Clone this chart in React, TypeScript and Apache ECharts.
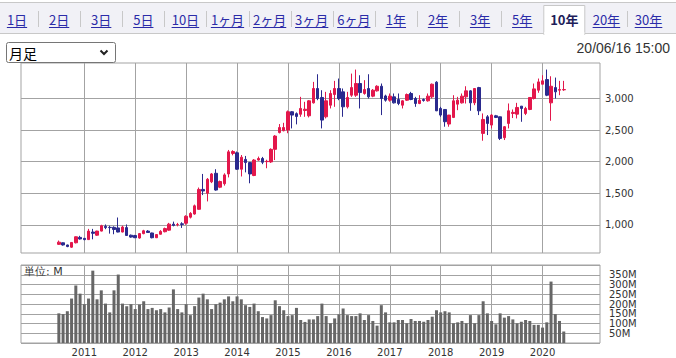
import React, { useEffect, useRef } from "react";
import * as echarts from "echarts";

// Monthly candles, 2010-07 .. 2020-06
const startYear = 2010;
const startMonth = 7;

const openP = [
  690, 715, 680, 645, 715, 800,
  785, 765, 885, 835, 900, 975, 960, 960, 950, 885, 955, 835,
  830, 790, 860, 900, 870, 795, 850, 890, 915, 1010, 1000, 1015,
  1025, 1120, 1170, 1245, 1560, 1500, 1680, 1815, 1595, 1650, 1805, 2130,
  2140, 1880, 2035, 1985, 1780, 2025, 2050, 2000, 1995, 2195, 2460, 2490,
  2500, 2790, 2760, 2750, 2810, 2726, 2931, 3158, 3016, 2710, 2894, 3063,
  3158, 3105, 2868, 3052, 3052, 3237, 3079, 3158, 3037, 3121, 3194, 3040,
  2973, 3026, 2984, 2894, 2973, 3079, 3000, 2921, 2984, 2963, 3026, 3258,
  2842, 2826, 2595, 2700, 2910, 2931, 3026, 3121, 2931, 3173, 2447, 2710,
  2579, 2726, 2710, 2379, 2605, 2763, 2752, 2879, 2763, 2826, 3000, 3131,
  3226, 3300, 2931, 3173, 3131, 3137,
];
const closeP = [
  725, 680, 655, 720, 810, 775,
  765, 900, 865, 900, 985, 955, 955, 925, 885, 965, 830, 805,
  795, 860, 905, 878, 795, 845, 895, 940, 1010, 990, 1005, 1005,
  1135, 1180, 1300, 1560, 1535, 1720, 1805, 1550, 1685, 1790, 2155, 2160,
  1880, 2070, 1985, 1805, 2025, 2050, 1990, 2005, 2195, 2405, 2540, 2540,
  2790, 2737, 2715, 2842, 2830, 2963, 3158, 3000, 2658, 2963, 3079, 3158,
  3000, 2868, 3016, 3173, 3237, 3094, 3142, 3026, 3131, 3194, 3000, 2973,
  3037, 2931, 2921, 2963, 3063, 2984, 2921, 2973, 2968, 3037, 3226, 2805,
  2737, 2632, 2737, 2963, 2973, 3037, 3121, 2931, 3158, 2805, 2668, 2605,
  2737, 2700, 2368, 2553, 2805, 2780, 2858, 2842, 2842, 3016, 3152, 3263,
  3279, 3052, 3194, 3105, 3142, 3142,
];
const lowP = [
  680, 670, 645, 635, 705, 765,
  755, 760, 770, 825, 895, 930, 860, 850, 880, 880, 825, 795,
  790, 780, 850, 870, 785, 790, 845, 880, 905, 975, 975, 950,
  1000, 1100, 1160, 1240, 1470, 1370, 1660, 1540, 1580, 1620, 1750, 2100,
  1870, 1765, 1830, 1657, 1770, 2015, 1960, 1895, 1980, 2025, 2447, 2480,
  2450, 2526, 2590, 2710, 2710, 2700, 2920, 2973, 2526, 2684, 2842, 2868,
  2973, 2710, 2842, 3026, 3026, 2842, 3060, 3000, 3020, 3110, 2737, 2950,
  2950, 2920, 2894, 2842, 2960, 2973, 2868, 2910, 2950, 2950, 3000, 2800,
  2710, 2553, 2553, 2690, 2815, 2920, 2920, 2805, 2894, 2737, 2331, 2421,
  2526, 2690, 2342, 2342, 2526, 2690, 2684, 2631, 2737, 2815, 2984, 3090,
  3226, 3037, 2647, 3000, 3052, 3121,
];
const highP = [
  750, 720, 685, 725, 815, 825,
  790, 935, 935, 905, 1000, 1005, 985, 975, 1115, 985, 1005, 845,
  840, 870, 920, 915, 875, 850, 915, 955, 1030, 1050, 1030, 1040,
  1150, 1200, 1320, 1590, 1805, 1740, 1820, 1880, 1700, 1815, 2185, 2180,
  2160, 2105, 2090, 1995, 2040, 2080, 2075, 2030, 2210, 2420, 2595, 2615,
  2810, 2800, 2780, 3026, 2947, 2975, 3263, 3384, 3131, 3105, 3131, 3279,
  3316, 3158, 3105, 3394, 3458, 3368, 3290, 3384, 3150, 3210, 3237, 3060,
  3079, 3079, 3079, 2973, 3079, 3105, 3026, 3052, 3000, 3079, 3237, 3274,
  2868, 2826, 2740, 3052, 3026, 3079, 3194, 3131, 3158, 3184, 2763, 2737,
  2752, 2740, 2715, 2563, 2921, 2826, 2931, 2880, 2868, 3016, 3237, 3316,
  3368, 3458, 3352, 3331, 3279, 3279,
];
// Volume in M
const volume = [
  152, 148, 163, 228, 295, 253,
  199, 228, 371, 224, 270, 202, 157, 270, 351, 202, 189, 199,
  174, 197, 214, 174, 180, 168, 174, 157, 182, 275, 174, 157,
  199, 143, 189, 233, 253, 224, 174, 199, 207, 224, 239, 214,
  239, 224, 194, 185, 202, 163, 133, 126, 143, 219, 189, 168,
  138, 143, 180, 118, 108, 121, 121, 138, 202, 138, 101, 126,
  147, 177, 143, 138, 138, 152, 118, 143, 113, 89, 194, 157,
  106, 106, 118, 118, 101, 123, 113, 113, 109, 118, 135, 168,
  157, 163, 157, 101, 106, 113, 101, 143, 101, 143, 214, 152,
  113, 96, 152, 130, 138, 121, 101, 109, 118, 113, 93, 93,
  79, 106, 315, 148, 113, 59,
];

const yearLabels = [2011, 2012, 2013, 2014, 2015, 2016, 2017, 2018, 2019, 2020];
const priceTicks = [1000, 1500, 2000, 2500, 3000];
const tabs = ["1日", "2日", "3日", "5日", "10日", "1ヶ月", "2ヶ月", "3ヶ月", "6ヶ月", "1年", "2年", "3年", "5年", "10年", "20年", "30年"];
const selectedTab = "10年";
const selectLabel = "月足";
const dateLabel = "20/06/16 15:00";
const unitLabel = "単位: M";

const UP = "#e3174b";
const DOWN = "#2a2a8e";
const GRID = "#a3a3a3";
const AXIS_FONT = "DejaVu Sans";

function textWidth(s: string) {
  let w = 0;
  for (const ch of s) w += /[0-9]/.test(ch) ? 7.3 : 13;
  return w;
}

export default function App() {
  const ref = useRef<HTMLDivElement>(null);
  useEffect(() => {
    document.body.style.margin = "0";
    const chart = echarts.init(ref.current!, null, { renderer: "svg" });
    const base = (startYear - 2011) * 12 + (startMonth - 1);
    const candles = openP.map((o, i) => ({
      value: [base + i, o, closeP[i], lowP[i], highP[i]],
    }));
    const vols = volume.map((v, i) => [base + i, v]);
    const yearTicks = yearLabels.map((y) => (y - 2011) * 12);

    const graphics: any[] = [];
    // tab bar
    graphics.push({ type: "rect", shape: { x: 0, y: 2, width: 676, height: 31 }, style: { fill: "#f1f1f6" }, z: 1 });
    graphics.push({ type: "line", shape: { x1: 0, y1: 2.5, x2: 676, y2: 2.5 }, style: { stroke: "#c8c8c8", lineWidth: 1 }, z: 2 });
    graphics.push({ type: "line", shape: { x1: 0, y1: 33.5, x2: 676, y2: 33.5 }, style: { stroke: "#c8c8c8", lineWidth: 1 }, z: 2 });
    tabs.forEach((t, i) => {
      const cx = 17 + 42.1 * i;
      const sel = t === selectedTab;
      if (sel) {
        graphics.push({ type: "rect", shape: { x: cx - 20.5, y: 5.5, width: 41, height: 29 }, style: { fill: "#ffffff", stroke: "#c8c8c8", lineWidth: 1 }, z: 3 });
        graphics.push({ type: "rect", shape: { x: cx - 20, y: 32, width: 40, height: 3 }, style: { fill: "#ffffff" }, z: 4 });
      }
      graphics.push({
        type: "text", x: cx, y: 19, z: 5,
        style: { text: t, fill: sel ? "#1e1e5a" : "#2b2ba8", fontSize: 13, fontWeight: sel ? "bold" : "normal", fontFamily: '"Noto Sans CJK JP", sans-serif', textAlign: "center", textVerticalAlign: "middle" },
      });
      if (!sel) {
        const w = textWidth(t);
        graphics.push({ type: "line", shape: { x1: cx - w / 2, y1: 27.5, x2: cx + w / 2, y2: 27.5 }, style: { stroke: "#2b2ba8", lineWidth: 1 }, z: 5 });
      }
      if (i < tabs.length - 1) {
        const next = tabs[i + 1];
        if (!sel && next !== selectedTab) {
          const sx = Math.round(cx + 21) + 0.5;
          graphics.push({ type: "line", shape: { x1: sx, y1: 11, x2: sx, y2: 27 }, style: { stroke: "#c8c8c8", lineWidth: 1 }, z: 2 });
        }
      }
    });
    // select box
    graphics.push({ type: "rect", shape: { x: 6.5, y: 42.5, width: 109, height: 20, r: 2 }, style: { fill: "#ffffff", stroke: "#767676", lineWidth: 1 }, z: 10 });
    graphics.push({ type: "text", x: 9, y: 53, z: 11, style: { text: selectLabel, fill: "#000", fontSize: 14, fontFamily: '"Noto Sans CJK JP", sans-serif', textVerticalAlign: "middle" } });
    graphics.push({ type: "polyline", shape: { points: [[100.5, 50.5], [104, 54], [107.5, 50.5]] }, style: { stroke: "#222", lineWidth: 2, fill: null }, z: 11 });
    // date
    graphics.push({ type: "text", x: 670, y: 48, z: 11, style: { text: dateLabel, fill: "#333", fontSize: 14, fontFamily: '"Liberation Sans", Arial, sans-serif', textAlign: "right", textVerticalAlign: "middle" } });
    // unit label
    graphics.push({ type: "text", x: 24, y: 271, z: 11, style: { text: unitLabel, fill: "#333", fontSize: 11, fontFamily: AXIS_FONT, textVerticalAlign: "middle" } });

    const xMin = -14.92;
    const xMax = 121.54;

    chart.setOption({
      animation: false,
      backgroundColor: "#ffffff",
      graphic: graphics,
      grid: [
        { left: 21, top: 63, width: 579, height: 190, show: true, borderColor: GRID, borderWidth: 1, backgroundColor: "transparent" },
        { left: 21, top: 265, width: 579, height: 78, show: true, borderColor: GRID, borderWidth: 1, backgroundColor: "transparent" },
      ],
      xAxis: [
        {
          gridIndex: 0, type: "value", min: xMin, max: xMax,
          axisLine: { show: false },
          axisTick: { show: false, customValues: yearTicks },
          axisLabel: { show: false, customValues: yearTicks },
          splitLine: { show: true, lineStyle: { color: GRID, width: 1 } },
        },
        {
          gridIndex: 1, type: "value", min: xMin, max: xMax,
          axisLine: { show: false },
          axisTick: { show: false, customValues: yearTicks },
          axisLabel: {
            show: true, customValues: yearTicks, margin: 4,
            formatter: (v: number) => String(2011 + Math.round(v / 12)),
            fontFamily: AXIS_FONT, fontSize: 10, color: "#333",
          },
          splitLine: { show: true, lineStyle: { color: GRID, width: 1 } },
        },
      ],
      yAxis: [
        {
          gridIndex: 0, type: "value", position: "right", min: 553, max: 3562,
          axisLine: { show: false },
          axisTick: { show: true, length: 6, customValues: priceTicks, lineStyle: { color: GRID } },
          axisLabel: {
            customValues: priceTicks, margin: 5,
            formatter: (v: number) => v.toLocaleString("en-US"),
            fontFamily: AXIS_FONT, fontSize: 10, color: "#333",
          },
          splitLine: { show: true, lineStyle: { color: GRID, width: 1 } },
        },
        {
          gridIndex: 1, type: "value", position: "right", min: 0, max: 400, interval: 50,
          axisLine: { show: false },
          axisTick: { show: false },
          axisLabel: {
            margin: 9, showMinLabel: false, showMaxLabel: false,
            formatter: (v: number) => v + "M",
            fontFamily: AXIS_FONT, fontSize: 10, color: "#333",
          },
          splitLine: { show: true, lineStyle: { color: GRID, width: 1 } },
        },
      ],
      series: [
        {
          type: "candlestick", xAxisIndex: 0, yAxisIndex: 0,
          barWidth: 3,
          encode: { x: 0, y: [1, 2, 3, 4] },
          itemStyle: { color: UP, color0: DOWN, borderColor: UP, borderColor0: DOWN, borderWidth: 1 },
          data: candles,
        },
        {
          type: "bar", xAxisIndex: 1, yAxisIndex: 1,
          barWidth: 3,
          itemStyle: { color: "#666666" },
          data: vols,
        },
      ],
    });
    return () => chart.dispose();
  }, []);
  return (
    <div
      ref={ref}
      style={{ position: "absolute", left: 0, top: 0, width: 676, height: 358, background: "#fff" }}
    />
  );
}
